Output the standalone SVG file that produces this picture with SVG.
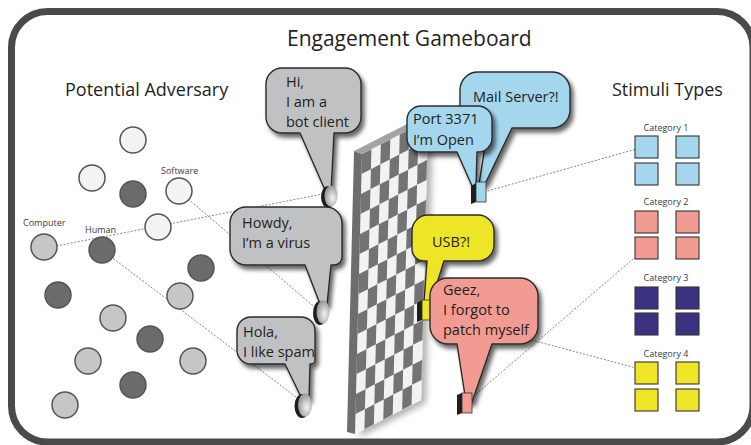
<svg xmlns="http://www.w3.org/2000/svg" width="751" height="445" viewBox="0 0 751 445">
  <style>
    .t { font-family: "Open Sans", "Noto Sans", "DejaVu Sans", sans-serif; fill: #231f20; }
    .h1 { font-size: 21px; }
    .h2 { font-size: 18px; }
    .bt { font-size: 14.5px; }
    .sm { font-size: 9px; fill: #3a3a3a; }
    .node { stroke: #555; stroke-width: 1.5; }
    .cw { fill: #f3f3f3; }
    .cl { fill: #c6c6c6; }
    .cd { fill: #6b6b6b; }
    .link { fill: none; stroke: #777; stroke-width: 0.9; stroke-dasharray: 2 1.6; }
    .bub { stroke: #2b2b2b; stroke-width: 1.4; stroke-linejoin: round; }
    .gray { fill: #c0c1c3; }
    .blue { fill: #a4d6ee; }
    .yel { fill: #ede526; }
    .pink { fill: #f29b92; }
    .navy { fill: #3b3380; }
    .side { fill: #1e1e1e; }
    .box { stroke: #333; stroke-width: 0.8; }
    .sq { stroke: #333; stroke-width: 1.1; }
  </style>
  <defs>
    <filter id="drop" x="-20%" y="-20%" width="150%" height="150%">
      <feDropShadow dx="3" dy="4" stdDeviation="2.2" flood-color="#000" flood-opacity="0.6"/>
    </filter>
    <filter id="wallShadow" x="-30%" y="-10%" width="170%" height="130%">
      <feDropShadow dx="5" dy="3" stdDeviation="3" flood-color="#000" flood-opacity="0.3"/>
    </filter>
    <radialGradient id="disk" cx="0.62" cy="0.6" r="0.7">
      <stop offset="0" stop-color="#f4f4f4"/>
      <stop offset="1" stop-color="#8a8a8a"/>
    </radialGradient>
  </defs>

  <!-- outer frame -->
  <rect x="11.5" y="11.5" width="741.5" height="430.5" rx="36" fill="#fff" stroke="#4a4a4a" stroke-width="7"/>

  <text class="t h1" x="287" y="46">Engagement Gameboard</text>
  <text class="t h2" x="65" y="96">Potential Adversary</text>
  <text class="t h2" x="612" y="96">Stimuli Types</text>

  <!-- dotted links -->
  <g id="connectors">
    <line class="link" x1="46" y1="248" x2="328" y2="193"/>
    <line class="link" x1="180" y1="192" x2="318" y2="310"/>
    <line class="link" x1="102" y1="250" x2="300" y2="400"/>
    <line class="link" x1="484" y1="192" x2="647" y2="146"/>
    <line class="link" x1="430" y1="313" x2="640" y2="369"/>
    <line class="link" x1="468" y1="401" x2="647" y2="247"/>
  </g>

  <!-- adversary population -->
  <g id="adversaries">
    <g id="adv-01"><circle class="node cw" cx="133" cy="140" r="13"/></g>
    <g id="adv-02"><circle class="node cw" cx="92" cy="178" r="13"/></g>
    <g id="adv-03"><circle class="node cd" cx="133" cy="194" r="13"/></g>
    <g id="software"><circle class="node cw" cx="179" cy="191" r="13"/><text class="t sm" x="161" y="174">Software</text></g>
    <g id="adv-05"><circle class="node cw" cx="158" cy="227" r="13"/></g>
    <g id="computer"><circle class="node cl" cx="44" cy="247" r="13"/><text class="t sm" x="23" y="226">Computer</text></g>
    <g id="human"><circle class="node cd" cx="102" cy="250" r="13"/><text class="t sm" x="85" y="233">Human</text></g>
    <g id="adv-08"><circle class="node cd" cx="201" cy="268" r="13"/></g>
    <g id="adv-09"><circle class="node cd" cx="58" cy="295" r="13"/></g>
    <g id="adv-10"><circle class="node cl" cx="180" cy="296" r="13"/></g>
    <g id="adv-11"><circle class="node cl" cx="113" cy="318" r="13"/></g>
    <g id="adv-12"><circle class="node cd" cx="150" cy="339" r="13"/></g>
    <g id="adv-13"><circle class="node cl" cx="88" cy="361" r="13"/></g>
    <g id="adv-14"><circle class="node cl" cx="193" cy="361" r="13"/></g>
    <g id="adv-15"><circle class="node cd" cx="133" cy="385" r="13"/></g>
    <g id="adv-16"><circle class="node cl" cx="65" cy="405" r="13"/></g>
  </g>

  <!-- checkered wall -->
  <g id="wall">
    <g filter="url(#wallShadow)">
      <polygon points="362,154 428,120 421,400 355,434" fill="#f2f2f2"/>
    </g>
    <path fill="#737373" transform="matrix(9.4286,-4.857,-0.5,20,362,154)" d="M0 0h1v1h-1zM2 0h1v1h-1zM4 0h1v1h-1zM6 0h1v1h-1zM1 1h1v1h-1zM3 1h1v1h-1zM5 1h1v1h-1zM0 2h1v1h-1zM2 2h1v1h-1zM4 2h1v1h-1zM6 2h1v1h-1zM1 3h1v1h-1zM3 3h1v1h-1zM5 3h1v1h-1zM0 4h1v1h-1zM2 4h1v1h-1zM4 4h1v1h-1zM6 4h1v1h-1zM1 5h1v1h-1zM3 5h1v1h-1zM5 5h1v1h-1zM0 6h1v1h-1zM2 6h1v1h-1zM4 6h1v1h-1zM6 6h1v1h-1zM1 7h1v1h-1zM3 7h1v1h-1zM5 7h1v1h-1zM0 8h1v1h-1zM2 8h1v1h-1zM4 8h1v1h-1zM6 8h1v1h-1zM1 9h1v1h-1zM3 9h1v1h-1zM5 9h1v1h-1zM0 10h1v1h-1zM2 10h1v1h-1zM4 10h1v1h-1zM6 10h1v1h-1zM1 11h1v1h-1zM3 11h1v1h-1zM5 11h1v1h-1zM0 12h1v1h-1zM2 12h1v1h-1zM4 12h1v1h-1zM6 12h1v1h-1zM1 13h1v1h-1zM3 13h1v1h-1zM5 13h1v1h-1z"/>
    <polygon points="354,151 362,154 355,434 347,432" fill="#6d6d6d"/>
    <polygon points="354,151 421,117 428,120 362,154" fill="#a3a3a3"/>
  </g>

  <!-- gray speech bubbles (adversary side) -->
  <g id="bubble-bot">
    <path class="bub gray" filter="url(#drop)" d="M282 68H345A16 16 0 0 1 361 84V117A16 16 0 0 1 345 133H334L331 192L325 190L300 133H282A16 16 0 0 1 266 117V84A16 16 0 0 1 282 68Z"/>
    <ellipse class="side" cx="328" cy="197" rx="7" ry="11"/>
    <ellipse cx="331" cy="196" rx="6.5" ry="10.5" fill="url(#disk)"/>
    <text class="t bt" x="286" y="87">Hi,</text>
    <text class="t bt" x="286" y="107">I am a</text>
    <text class="t bt" x="286" y="127">bot client</text>
  </g>

  <g id="bubble-virus">
    <path class="bub gray" filter="url(#drop)" d="M246 207H326A16 16 0 0 1 342 223V257A8 8 0 0 1 334 265H331L327 305L320 304L305 265H246A16 16 0 0 1 230 249V223A16 16 0 0 1 246 207Z"/>
    <ellipse class="side" cx="320" cy="313" rx="7" ry="12"/>
    <ellipse cx="323" cy="312" rx="6.5" ry="11.5" fill="url(#disk)"/>
    <text class="t bt" x="242" y="228">Howdy,</text>
    <text class="t bt" x="242" y="248">I’m a virus</text>
  </g>

  <g id="bubble-spam">
    <path class="bub gray" filter="url(#drop)" d="M251 317H301A14 14 0 0 1 315 331V360A4 4 0 0 1 311 364H310L309 399L302 399L285 364H251A14 14 0 0 1 237 350V331A14 14 0 0 1 251 317Z"/>
    <ellipse class="side" cx="302" cy="406" rx="7.5" ry="12"/>
    <ellipse cx="305" cy="405" rx="7" ry="11.5" fill="url(#disk)"/>
    <text class="t bt" x="243" y="337">Hola,</text>
    <text class="t bt" x="243" y="357">I like spam</text>
  </g>

  <!-- stimulus bubbles (gameboard side) -->
  <g id="bubble-mail">
    <path class="bub blue" filter="url(#drop)" d="M478 72H552A18 18 0 0 1 570 90V110A18 18 0 0 1 552 128H512L485 184L479 184L488 128H478A18 18 0 0 1 460 110V90A18 18 0 0 1 478 72Z"/>
    <text class="t bt" x="473" y="102">Mail Server?!</text>
  </g>

  <g id="bubble-port">
    <path class="bub blue" filter="url(#drop)" d="M421 106H478A14 14 0 0 1 492 120V138A14 14 0 0 1 478 152H477L476 186L472 186L457 152H421A14 14 0 0 1 407 138V120A14 14 0 0 1 421 106Z"/>
    <polygon class="side" points="471,186 476,183 476,202 471,204"/>
    <rect class="box blue" x="476" y="182" width="10" height="20"/>
    <text class="t bt" x="413" y="124">Port 3371</text>
    <text class="t bt" x="413" y="145">I’m Open</text>
  </g>

  <g id="bubble-usb">
    <path class="bub yel" filter="url(#drop)" d="M428 215H478A16 16 0 0 1 494 231V245A16 16 0 0 1 478 261H444L431 302L424 302L427 261H424A12 12 0 0 1 412 249V231A16 16 0 0 1 428 215Z"/>
    <polygon class="side" points="417,303 422,300 422,320 417,322"/>
    <rect class="box yel" x="422" y="300" width="10" height="20"/>
    <text class="t bt" x="432" y="247">USB?!</text>
  </g>

  <g id="bubble-patch">
    <path class="bub pink" filter="url(#drop)" d="M448 278H520A18 18 0 0 1 538 296V326A18 18 0 0 1 520 344H492L472 402L466 402L457 344H448A18 18 0 0 1 430 326V296A18 18 0 0 1 448 278Z"/>
    <polygon class="side" points="457,395 462,393 462,413 457,415"/>
    <rect class="box pink" x="462" y="393" width="10" height="20"/>
    <text class="t bt" x="443" y="295">Geez,</text>
    <text class="t bt" x="443" y="315">I forgot to</text>
    <text class="t bt" x="443" y="335">patch myself</text>
  </g>

  <!-- stimulus categories -->
  <g id="stimuli">
    <g id="category-1">
      <text class="t sm" x="666" y="131" text-anchor="middle">Category 1</text>
      <rect class="sq blue" x="635" y="136" width="23" height="22"/>
      <rect class="sq blue" x="676" y="136" width="23" height="22"/>
      <rect class="sq blue" x="635" y="163" width="23" height="22"/>
      <rect class="sq blue" x="676" y="163" width="23" height="22"/>
    </g>
    <g id="category-2">
      <text class="t sm" x="666" y="205" text-anchor="middle">Category 2</text>
      <rect class="sq pink" x="635" y="211" width="23" height="22"/>
      <rect class="sq pink" x="676" y="211" width="23" height="22"/>
      <rect class="sq pink" x="635" y="237" width="23" height="22"/>
      <rect class="sq pink" x="676" y="237" width="23" height="22"/>
    </g>
    <g id="category-3">
      <text class="t sm" x="666" y="281" text-anchor="middle">Category 3</text>
      <rect class="sq navy" x="635" y="287" width="23" height="22"/>
      <rect class="sq navy" x="676" y="287" width="23" height="22"/>
      <rect class="sq navy" x="635" y="313" width="23" height="22"/>
      <rect class="sq navy" x="676" y="313" width="23" height="22"/>
    </g>
    <g id="category-4">
      <text class="t sm" x="666" y="357" text-anchor="middle">Category 4</text>
      <rect class="sq yel" x="635" y="362" width="23" height="22"/>
      <rect class="sq yel" x="676" y="362" width="23" height="22"/>
      <rect class="sq yel" x="635" y="389" width="23" height="22"/>
      <rect class="sq yel" x="676" y="389" width="23" height="22"/>
    </g>
  </g>
</svg>
